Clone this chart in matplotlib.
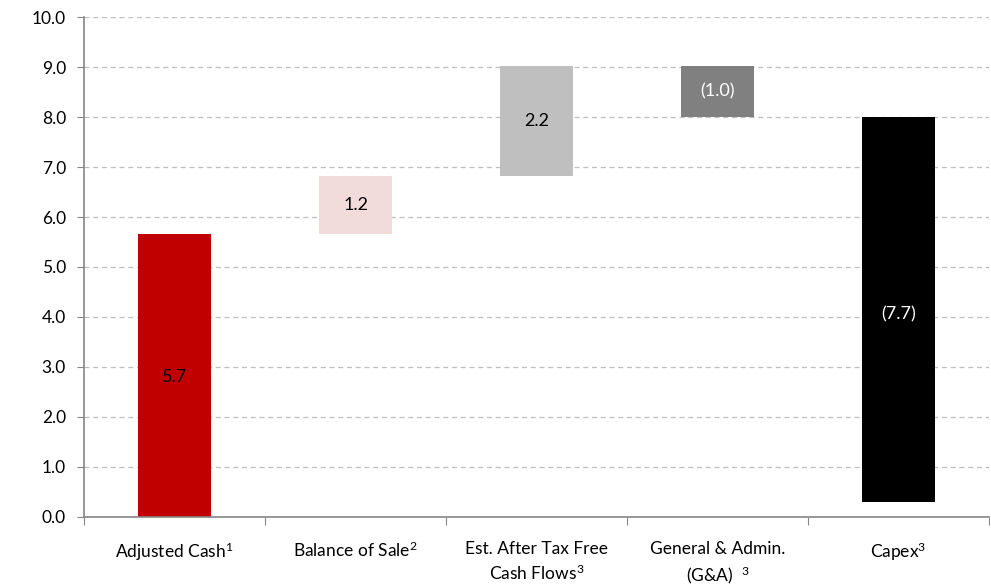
import numpy as np
import matplotlib.pyplot as plt
from matplotlib.ticker import FixedLocator, NullFormatter

plt.rcParams['font.family'] = ['Lato', 'DejaVu Sans']
plt.rcParams['mathtext.fontset'] = 'custom'
plt.rcParams['mathtext.rm'] = 'Lato'
plt.rcParams['mathtext.it'] = 'Lato:italic'

categories = ['Adjusted Cash$^{1}$', 'Balance of Sale$^{2}$',
              'Est. After Tax Free\nCash Flows$^{3}$',
              'General & Admin.\n(G&A)  $^{3}$', 'Capex$^{3}$']
changes = [5.67, 1.16, 2.19, -1.02, -7.70]
colors = ['#C00000', '#F2DCDB', '#BFBFBF', '#808080', '#000000']
label_colors = ['black', 'black', 'black', 'white', 'white']

# waterfall bases
starts = np.concatenate([[0], np.cumsum(changes)[:-1]])
x = np.arange(len(changes))

fig = plt.figure(figsize=(9.91, 5.87), dpi=100)
ax = fig.add_axes([0.0848, 0.1193, 0.9132, 0.8517])

ax.set_axisbelow(True)
ax.yaxis.grid(True, linestyle=(0, (4, 3)), color='#BFBFBF', linewidth=0.9)
ax.bar(x, changes, bottom=starts, width=0.40, color=colors)

for i, (s, c) in enumerate(zip(starts, changes)):
    txt = '%.1f' % c if c >= 0 else '(%.1f)' % abs(c)
    yy = s + c / 2
    if i == 4:
        yy = 4.06
    if i == 0:
        yy = 2.8
    ax.text(i, yy, txt, ha='center', va='center', fontsize=13,
            color=label_colors[i])

ax.set_xlim(-0.5, 4.5)
ax.set_ylim(0, 10)
ax.set_yticks(np.arange(0, 10.5, 1))
ax.set_yticklabels(['%.1f' % v for v in np.arange(0, 10.5, 1)], fontsize=12.5)

ax.xaxis.set_major_locator(FixedLocator(np.arange(-0.5, 5, 1)))
ax.xaxis.set_major_formatter(NullFormatter())
ax.xaxis.set_minor_locator(FixedLocator(x))
ax.set_xticklabels(categories, minor=True, fontsize=12.5, linespacing=1.45)
ax.tick_params(axis='x', which='major', length=6, color='#868686', direction='out')
ax.tick_params(axis='x', which='minor', length=0, pad=17)
ax.tick_params(axis='y', length=5, color='#868686', pad=8)

for side in ['top', 'right']:
    ax.spines[side].set_visible(False)
for side in ['left', 'bottom']:
    ax.spines[side].set_color('#868686')
    ax.spines[side].set_linewidth(1.2)

plt.savefig('out.png', dpi=100)
